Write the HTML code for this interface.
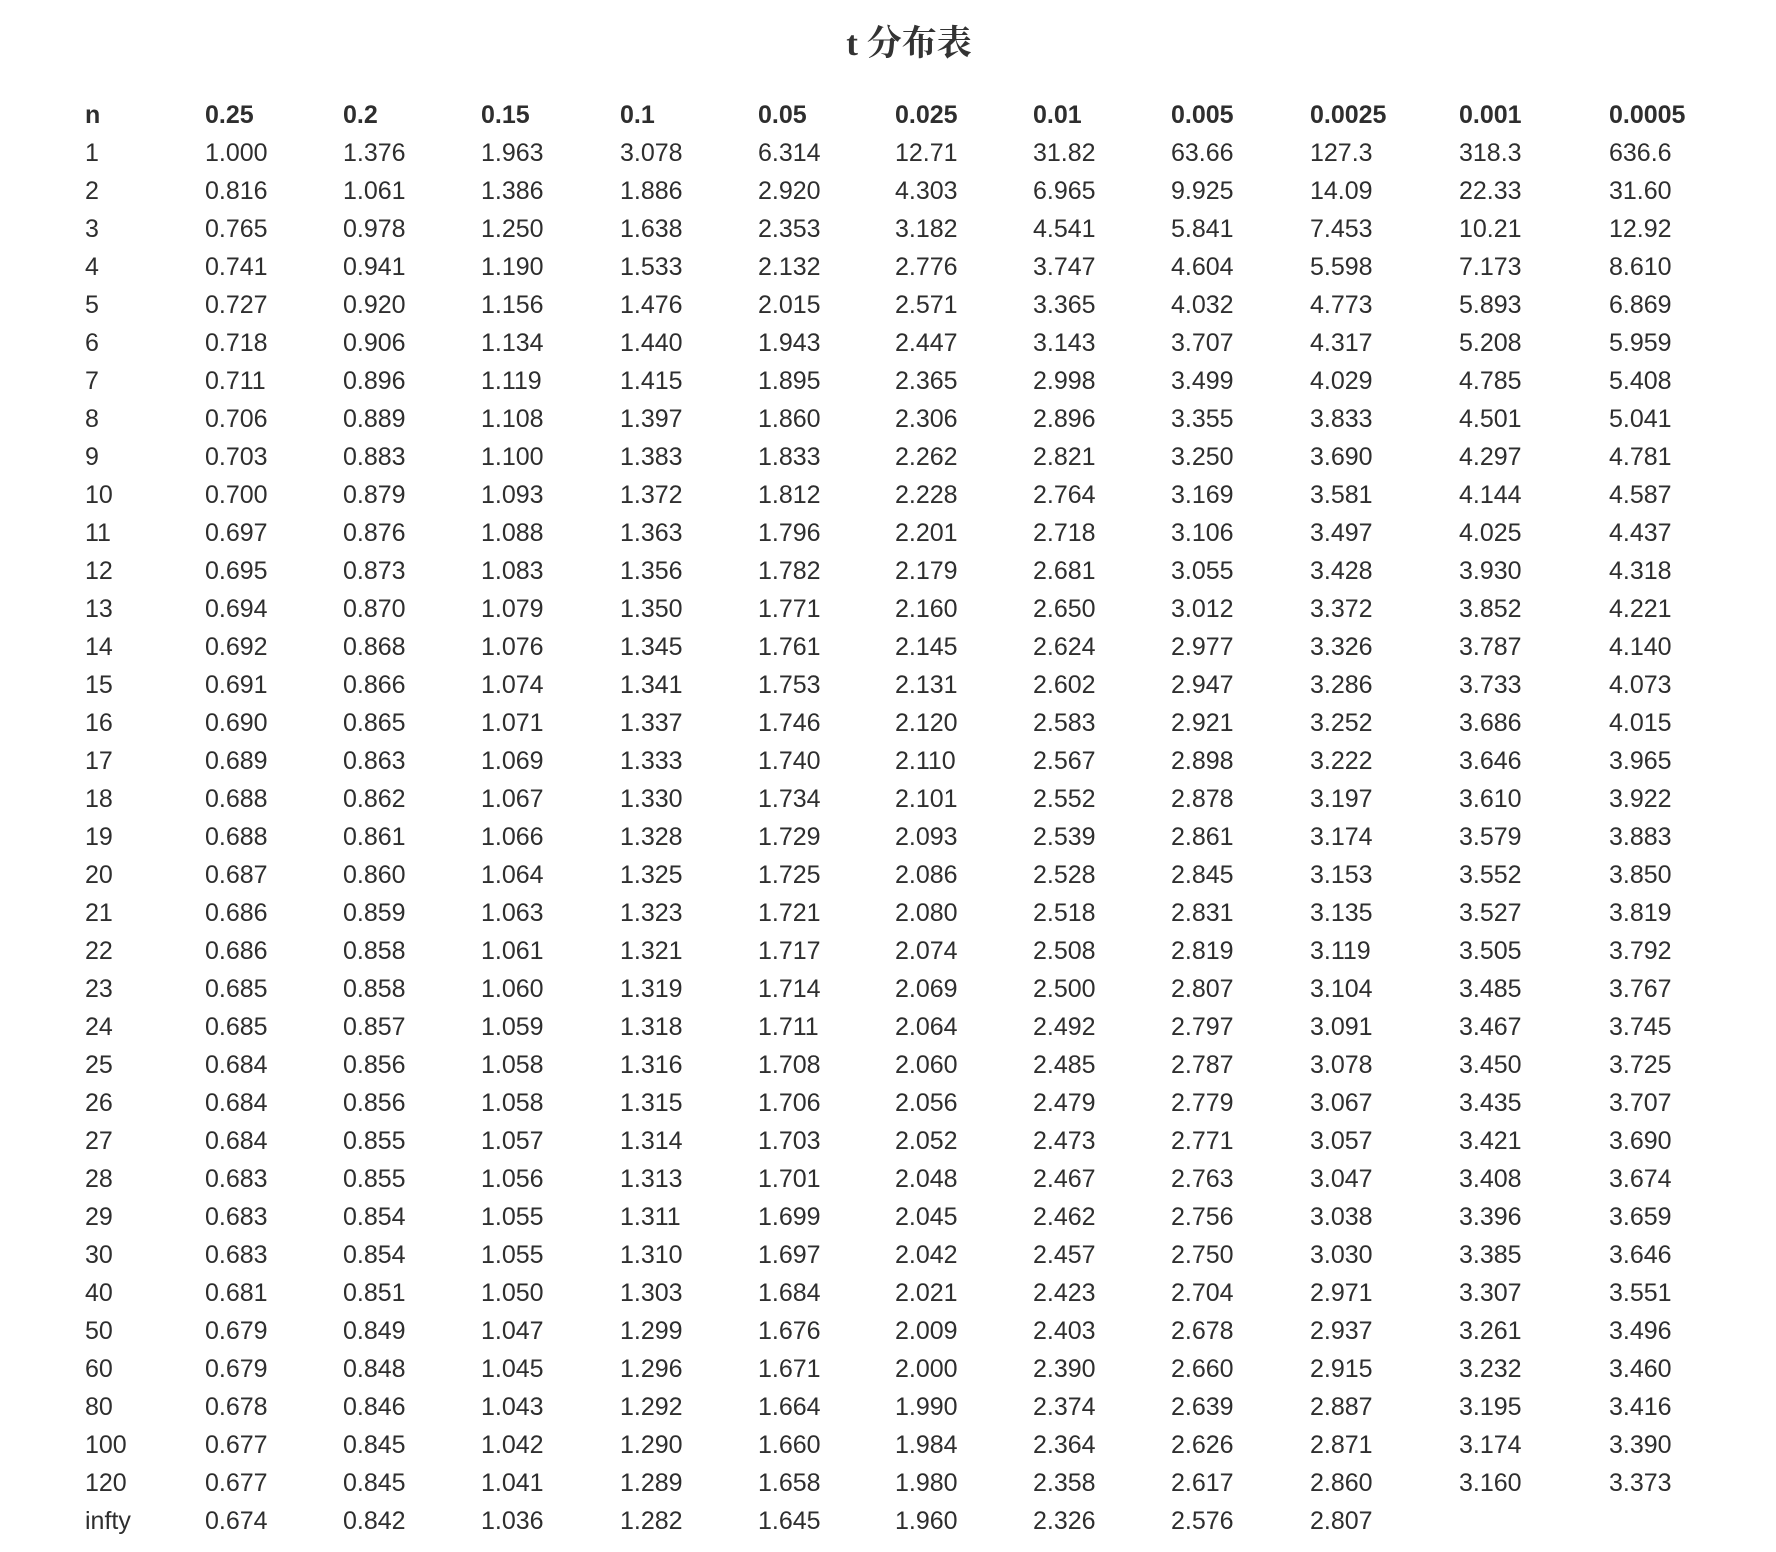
<!DOCTYPE html>
<html><head><meta charset="utf-8">
<style>
body{margin:0;width:1776px;height:1552px;background:#fff;position:relative;overflow:hidden;}
#title{position:absolute;left:0;width:1818px;top:16px;text-align:center;font:bold 35px "Liberation Serif","Noto Serif CJK SC",serif;color:#333;}
.c{position:absolute;font:25px "Liberation Sans",sans-serif;color:#2e2e2e;line-height:28px;white-space:nowrap;}
.h{font-weight:bold;}
</style></head><body>
<div id="title">t 分布表</div>
<div id="tbl"></div>
<script>
const alphas=["0.25","0.2","0.15","0.1","0.05","0.025","0.01","0.005","0.0025","0.001","0.0005"];
const ns=["1","2","3","4","5","6","7","8","9","10","11","12","13","14","15","16","17","18","19","20","21","22","23","24","25","26","27","28","29","30","40","50","60","80","100","120","infty"];
const rows=[
"1.000 1.376 1.963 3.078 6.314 12.71 31.82 63.66 127.3 318.3 636.6",
"0.816 1.061 1.386 1.886 2.920 4.303 6.965 9.925 14.09 22.33 31.60",
"0.765 0.978 1.250 1.638 2.353 3.182 4.541 5.841 7.453 10.21 12.92",
"0.741 0.941 1.190 1.533 2.132 2.776 3.747 4.604 5.598 7.173 8.610",
"0.727 0.920 1.156 1.476 2.015 2.571 3.365 4.032 4.773 5.893 6.869",
"0.718 0.906 1.134 1.440 1.943 2.447 3.143 3.707 4.317 5.208 5.959",
"0.711 0.896 1.119 1.415 1.895 2.365 2.998 3.499 4.029 4.785 5.408",
"0.706 0.889 1.108 1.397 1.860 2.306 2.896 3.355 3.833 4.501 5.041",
"0.703 0.883 1.100 1.383 1.833 2.262 2.821 3.250 3.690 4.297 4.781",
"0.700 0.879 1.093 1.372 1.812 2.228 2.764 3.169 3.581 4.144 4.587",
"0.697 0.876 1.088 1.363 1.796 2.201 2.718 3.106 3.497 4.025 4.437",
"0.695 0.873 1.083 1.356 1.782 2.179 2.681 3.055 3.428 3.930 4.318",
"0.694 0.870 1.079 1.350 1.771 2.160 2.650 3.012 3.372 3.852 4.221",
"0.692 0.868 1.076 1.345 1.761 2.145 2.624 2.977 3.326 3.787 4.140",
"0.691 0.866 1.074 1.341 1.753 2.131 2.602 2.947 3.286 3.733 4.073",
"0.690 0.865 1.071 1.337 1.746 2.120 2.583 2.921 3.252 3.686 4.015",
"0.689 0.863 1.069 1.333 1.740 2.110 2.567 2.898 3.222 3.646 3.965",
"0.688 0.862 1.067 1.330 1.734 2.101 2.552 2.878 3.197 3.610 3.922",
"0.688 0.861 1.066 1.328 1.729 2.093 2.539 2.861 3.174 3.579 3.883",
"0.687 0.860 1.064 1.325 1.725 2.086 2.528 2.845 3.153 3.552 3.850",
"0.686 0.859 1.063 1.323 1.721 2.080 2.518 2.831 3.135 3.527 3.819",
"0.686 0.858 1.061 1.321 1.717 2.074 2.508 2.819 3.119 3.505 3.792",
"0.685 0.858 1.060 1.319 1.714 2.069 2.500 2.807 3.104 3.485 3.767",
"0.685 0.857 1.059 1.318 1.711 2.064 2.492 2.797 3.091 3.467 3.745",
"0.684 0.856 1.058 1.316 1.708 2.060 2.485 2.787 3.078 3.450 3.725",
"0.684 0.856 1.058 1.315 1.706 2.056 2.479 2.779 3.067 3.435 3.707",
"0.684 0.855 1.057 1.314 1.703 2.052 2.473 2.771 3.057 3.421 3.690",
"0.683 0.855 1.056 1.313 1.701 2.048 2.467 2.763 3.047 3.408 3.674",
"0.683 0.854 1.055 1.311 1.699 2.045 2.462 2.756 3.038 3.396 3.659",
"0.683 0.854 1.055 1.310 1.697 2.042 2.457 2.750 3.030 3.385 3.646",
"0.681 0.851 1.050 1.303 1.684 2.021 2.423 2.704 2.971 3.307 3.551",
"0.679 0.849 1.047 1.299 1.676 2.009 2.403 2.678 2.937 3.261 3.496",
"0.679 0.848 1.045 1.296 1.671 2.000 2.390 2.660 2.915 3.232 3.460",
"0.678 0.846 1.043 1.292 1.664 1.990 2.374 2.639 2.887 3.195 3.416",
"0.677 0.845 1.042 1.290 1.660 1.984 2.364 2.626 2.871 3.174 3.390",
"0.677 0.845 1.041 1.289 1.658 1.980 2.358 2.617 2.860 3.160 3.373",
"0.674 0.842 1.036 1.282 1.645 1.960 2.326 2.576 2.807"
];
const colX=[85,205,343,481,620,758,895,1033,1171,1310,1459,1609];
const tbl=document.getElementById('tbl');
function rowY(i){return 115+i*38.0;}
function cell(txt,x,y,bold,name){
  const d=document.createElement('div');
  d.className='c'+(bold?' h':'');
  d.style.left=x+'px';d.style.top=(y-14)+'px';
  d.textContent=txt;
  
  
  tbl.appendChild(d);
}
cell('n',colX[0],rowY(0),true,'header-n');
alphas.forEach((a,j)=>cell(a,colX[j+1],rowY(0),true,'header-alpha'));
ns.forEach((n,i)=>{
  cell(n,colX[0],rowY(i+1),false,'row-n');
  rows[i].split(' ').forEach((v,j)=>cell(v,colX[j+1],rowY(i+1),false,'t-value'));
});
</script>
</body></html>
